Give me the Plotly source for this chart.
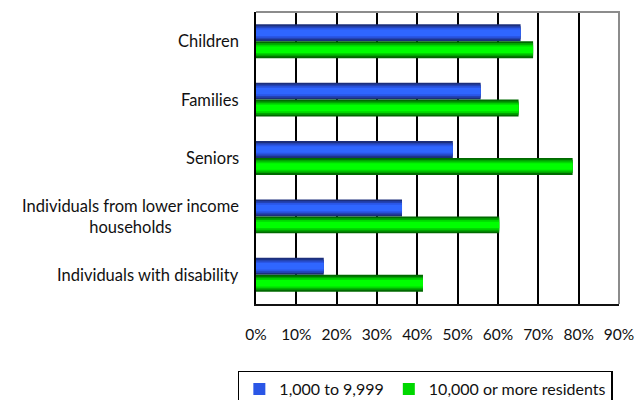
import plotly.graph_objects as go

categories = ["Children", "Families", "Seniors",
              "Individuals from lower income<br>households",
              "Individuals with disability"]
small_towns = [65.6, 55.7, 48.8, 36.2, 16.8]      # 1,000 to 9,999
large_towns = [68.7, 65.1, 78.5, 60.3, 41.4]      # 10,000 or more residents
x_ticks = [0, 10, 20, 30, 40, 50, 60, 70, 80, 90]
x_tick_labels = [f"{v}%" for v in x_ticks]
series_names = ["1,000 to 9,999", "10,000 or more residents"]

FONT = "Lato, 'Open Sans', sans-serif"
bar_w = 0.29
layer_frac = [1.0, 0.78, 0.58, 0.38]
blue_layers = ["#1c2f7c", "#2343b4", "#2a56e6", "#2f66ff"]
green_layers = ["#006a00", "#00a400", "#00d800", "#00ff00"]

fig = go.Figure()
for vals, name, cols, center in [
    (small_towns, series_names[0], blue_layers, -bar_w / 2),
    (large_towns, series_names[1], green_layers, bar_w / 2),
]:
    for i, (f, c) in enumerate(zip(layer_frac, cols)):
        w = bar_w * f
        fig.add_trace(go.Bar(
            y=categories, x=vals, orientation="h",
            name=name, legendgroup=name,
            showlegend=(i == 2),
            marker=dict(color=c, line=dict(width=0)),
            width=w, offset=center - w / 2,
            hoverinfo="skip",
        ))

for cat in categories:
    fig.add_annotation(
        x=0, xref="paper", y=cat, yref="y", text=cat,
        xanchor="right", xshift=-15, align="center",
        showarrow=False, font=dict(family=FONT, size=16.5, color="#111111"),
    )

# gray top and right border
fig.add_shape(type="path", xref="paper", yref="paper",
              path="M 0 1 L 1 1 L 1 0", line=dict(color="#8c8c8c", width=2),
              layer="above")

fig.update_layout(
    width=640, height=400,
    margin=dict(l=256, r=21, t=12, b=96, autoexpand=False),
    paper_bgcolor="white", plot_bgcolor="white",
    barmode="overlay",
    font=dict(family=FONT, size=15, color="#111111"),
    xaxis=dict(
        range=[0, 90], tickvals=x_ticks, ticktext=x_tick_labels,
        showgrid=True, gridcolor="#000000", gridwidth=2,
        zeroline=False, showline=True, linecolor="#111111", linewidth=2,
        ticks="outside", ticklen=15, tickcolor="rgba(0,0,0,0)",
        tickfont=dict(family=FONT, size=15.5, color="#111111"),
        fixedrange=True,
    ),
    yaxis=dict(
        autorange="reversed", showticklabels=False, showgrid=False,
        showline=True, linecolor="#000000", linewidth=2, zeroline=False,
        fixedrange=True,
    ),
    legend=dict(
        orientation="h", x=-0.05, xanchor="left", y=-0.228, yanchor="top",
        bordercolor="#000000", borderwidth=1.5, bgcolor="white",
        font=dict(family=FONT, size=16, color="#111111"),
        itemwidth=30, traceorder="normal",
    ),
    showlegend=True,
)

fig.write_html("out.html")
